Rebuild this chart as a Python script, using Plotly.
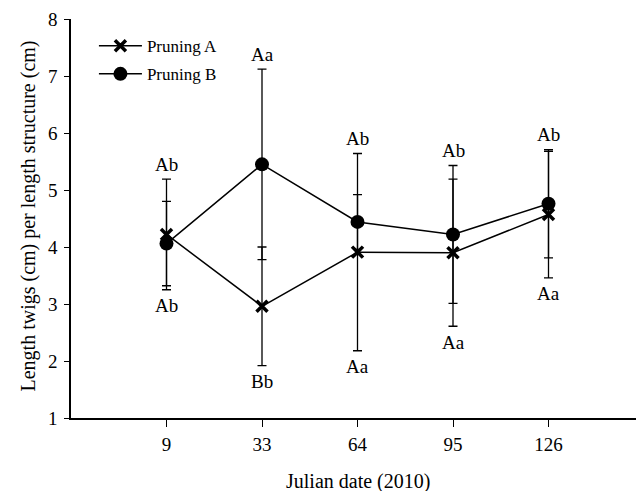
import plotly.graph_objects as go

dates = ["9", "33", "64", "95", "126"]
prun_a = [4.22, 2.96, 3.91, 3.90, 4.57]
prun_a_err = [0.97, 1.04, 1.73, 1.29, 1.11]
prun_b = [4.06, 5.45, 4.44, 4.22, 4.76]
prun_b_err = [0.74, 1.67, 0.48, 1.21, 0.95]
labels_top = ["Ab", "Aa", "Ab", "Ab", "Ab"]
labels_bottom = ["Ab", "Bb", "Aa", "Aa", "Aa"]
x_title = "Julian date (2010)"
y_title = "Length twigs (cm) per length structure (cm)"

FONT = "Liberation Serif, Times New Roman, serif"

fig = go.Figure()
fig.add_trace(go.Scatter(
    x=dates, y=prun_a, name="Pruning A", mode="lines+markers", legendgroup="a",
    line=dict(color="black", width=1.5),
    marker=dict(symbol="x-thin", size=11, color="black",
                line=dict(color="black", width=3.5)),
    error_y=dict(type="data", array=prun_a_err, color="black",
                 thickness=1.3, width=4.5),
))
fig.add_trace(go.Scatter(
    x=dates, y=prun_b, name="Pruning B", mode="lines+markers", legendgroup="b",
    line=dict(color="black", width=1.5),
    marker=dict(symbol="circle", size=14, color="black"),
    error_y=dict(type="data", array=prun_b_err, color="black",
                 thickness=1.3, width=4.5),
))

for i, d in enumerate(dates):
    top = max(prun_a[i] + prun_a_err[i], prun_b[i] + prun_b_err[i])
    bot = min(prun_a[i] - prun_a_err[i], prun_b[i] - prun_b_err[i])
    fig.add_annotation(x=i, y=top, text=labels_top[i], showarrow=False,
                       yshift=15, font=dict(family=FONT, size=19, color="black"))
    fig.add_annotation(x=i, y=bot, text=labels_bottom[i], showarrow=False,
                       yshift=-16, font=dict(family=FONT, size=19, color="black"))

# axis titles
fig.add_annotation(xref="paper", yref="paper", x=0.5, y=0, text=x_title,
                   showarrow=False, yanchor="middle", yshift=-63,
                   font=dict(family=FONT, size=20, color="black"))
fig.add_annotation(xref="paper", yref="paper", x=0, y=0.5, text=y_title,
                   showarrow=False, textangle=-90, xanchor="center",
                   xshift=-43, yshift=2,
                   font=dict(family=FONT, size=20, color="black"))

fig.update_layout(
    width=644, height=491,
    margin=dict(l=63, r=8, t=11, b=81),
    paper_bgcolor="white", plot_bgcolor="white",
    font=dict(family=FONT, size=19, color="black"),
    showlegend=True,
    legend=dict(x=0.04, y=0.977, xanchor="left", yanchor="top",
                bgcolor="rgba(0,0,0,0)", font=dict(family=FONT, size=17, color="black"),
                tracegroupgap=3, itemwidth=43),
    xaxis=dict(type="category", range=[-1, 5], showline=True, linecolor="black",
               linewidth=1.5, ticks="outside", ticklen=7, tickwidth=1.2,
               tickcolor="black", showgrid=False, zeroline=False, automargin=False,
               ticklabelstandoff=1,
               tickfont=dict(size=19, color="black")),
    yaxis=dict(range=[1, 8], dtick=1, showline=True, linecolor="black",
               linewidth=1.5, ticks="outside", ticklen=5, tickwidth=1.2,
               tickcolor="black", showgrid=False, zeroline=False, automargin=False,
               ticklabelstandoff=3,
               tickfont=dict(size=19, color="black")),
)

fig.write_html("out.html")
